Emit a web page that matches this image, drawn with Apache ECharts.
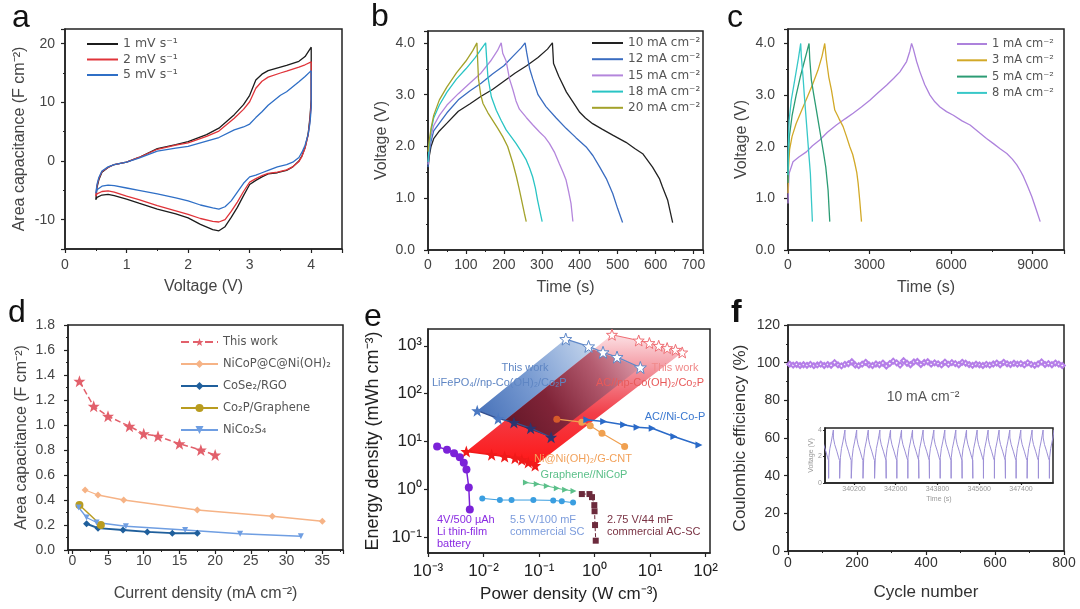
<!DOCTYPE html>
<html><head><meta charset="utf-8">
<script src="https://cdn.jsdelivr.net/npm/echarts@6/dist/echarts.min.js"></script>
<style>html,body{margin:0;padding:0;background:#fff}#c{width:1080px;height:609px}</style>
</head><body><div id="c"></div>
<script>
// ---------- Panel a: CV curves [V, F cm-2] ----------
const cvBlack = [[0.5,-6.6],[0.52,-4.5],[0.55,-3.2],[0.6,-1.9],[0.7,-1.1],[0.8,-0.6],[1.0,-0.2],[1.2,0.6],[1.5,2.1],[1.8,2.8],[2.0,3.3],[2.3,4.5],[2.5,5.6],[2.75,7.9],[2.9,9.6],[3.0,11.2],[3.1,13.8],[3.2,14.8],[3.3,15.4],[3.5,16.0],[3.6,16.3],[3.8,17.0],[3.9,17.8],[4.0,19.4],
  [4.0,10.5],[3.98,7.5],[3.95,4.6],[3.9,2.3],[3.85,0.9],[3.8,0],[3.7,-1.0],[3.6,-1.6],[3.45,-2.0],[3.3,-2.2],[3.2,-2.7],[3.1,-3.3],[3.0,-4.0],[2.9,-5.9],[2.8,-7.9],[2.7,-9.6],[2.6,-11.2],[2.5,-11.9],[2.4,-11.7],[2.2,-10.8],[2.0,-9.7],[1.8,-9.0],[1.5,-8.2],[1.2,-7.2],[1.0,-6.5],[0.8,-5.9],[0.7,-5.7],[0.6,-5.8],[0.52,-6.2],[0.5,-6.6]];
const cvRed = [[0.5,-6.0],[0.52,-4.2],[0.55,-3.0],[0.6,-1.8],[0.7,-1.1],[0.8,-0.6],[1.0,-0.2],[1.2,0.6],[1.5,2.0],[1.8,2.7],[2.0,3.1],[2.3,4.2],[2.5,5.1],[2.75,7.3],[2.9,8.8],[3.0,10.1],[3.1,12.4],[3.2,13.6],[3.3,14.3],[3.5,15.0],[3.6,15.3],[3.8,16.0],[3.9,16.4],[4.0,16.9],
  [4.0,10],[3.98,7],[3.95,4.4],[3.9,2.2],[3.85,0.8],[3.8,-0.1],[3.7,-1.0],[3.6,-1.5],[3.45,-1.9],[3.3,-2.1],[3.2,-2.5],[3.1,-3.0],[3.0,-3.6],[2.9,-5.2],[2.8,-7.0],[2.7,-8.6],[2.6,-10.0],[2.5,-10.4],[2.4,-10.3],[2.2,-9.8],[2.0,-9.1],[1.8,-8.5],[1.5,-7.6],[1.2,-6.6],[1.0,-6.0],[0.8,-5.3],[0.7,-5.1],[0.6,-5.2],[0.52,-5.6],[0.5,-6.0]];
const cvBlue = [[0.5,-5.5],[0.52,-4.0],[0.55,-2.8],[0.6,-1.7],[0.7,-1.0],[0.8,-0.6],[1.0,-0.2],[1.2,0.5],[1.5,1.7],[1.8,2.2],[2.0,2.5],[2.3,3.4],[2.5,4.0],[2.75,5.3],[2.9,5.8],[3.0,6.3],[3.1,7.4],[3.2,8.4],[3.3,9.5],[3.5,11.2],[3.6,11.8],[3.8,13.5],[3.9,14.4],[4.0,15.4],
  [4.0,9],[3.98,6.5],[3.95,4.5],[3.9,2.7],[3.85,1.5],[3.8,0.6],[3.7,-0.2],[3.6,-0.6],[3.45,-1.0],[3.3,-1.6],[3.2,-2.0],[3.1,-2.4],[3.0,-2.7],[2.9,-3.8],[2.8,-5.3],[2.7,-6.8],[2.6,-7.8],[2.5,-8.2],[2.4,-8.0],[2.2,-7.5],[2.0,-6.8],[1.8,-6.3],[1.5,-5.6],[1.2,-5.0],[1.0,-4.6],[0.8,-4.2],[0.7,-4.1],[0.6,-4.3],[0.52,-4.9],[0.5,-5.5]];
const cvNames = ['1 mV s\u207B\u00B9','2 mV s\u207B\u00B9','5 mV s\u207B\u00B9'];

// ---------- Panel b: GCD [s, V] ----------
const gcd10 = [[0,1.55],[3,1.8],[8,2.0],[15,2.15],[30,2.3],[50,2.45],[80,2.68],[110,2.82],[140,2.97],[170,3.1],[200,3.26],[230,3.42],[260,3.56],[290,3.72],[315,3.88],[328,4.0],[331,3.6],[345,3.35],[365,3.05],[382,2.86],[400,2.66],[415,2.55],[434,2.44],[460,2.33],[487,2.22],[522,2.08],[545,1.96],[566,1.86],[592,1.6],[610,1.38],[618,1.22],[632,0.96],[645,0.53]];
const gcd12 = [[0,1.6],[3,1.85],[8,2.1],[15,2.3],[30,2.45],[50,2.65],[80,2.9],[110,3.07],[140,3.22],[170,3.4],[200,3.56],[225,3.75],[245,3.9],[256,4.0],[260,3.82],[268,3.5],[276,3.31],[290,3.0],[311,2.77],[338,2.55],[364,2.35],[390,2.17],[417,1.99],[435,1.82],[452,1.61],[470,1.38],[487,1.09],[500,0.8],[513,0.53]];
const gcd15 = [[0,1.65],[3,1.95],[8,2.2],[15,2.4],[30,2.6],[50,2.8],[80,3.02],[110,3.22],[140,3.42],[165,3.65],[183,3.85],[193,4.0],[197,3.8],[206,3.65],[215,3.3],[224,3.09],[232,2.88],[241,2.72],[259,2.56],[276,2.42],[294,2.28],[308,2.18],[320,2.06],[334,1.88],[346,1.67],[356,1.5],[364,1.35],[371,1.12],[377,0.9],[382,0.55]];
const gcd18 = [[0,1.7],[3,2.0],[8,2.3],[15,2.55],[30,2.8],[50,3.05],[75,3.3],[100,3.5],[125,3.72],[142,3.9],[152,4.0],[155,3.65],[158,3.34],[167,2.96],[180,2.7],[193,2.5],[206,2.32],[220,2.18],[232,2.06],[246,1.9],[259,1.74],[268,1.58],[276,1.41],[283,1.2],[289,0.96],[295,0.75],[301,0.55]];
const gcd20 = [[0,1.9],[3,2.1],[8,2.35],[15,2.6],[30,2.9],[50,3.15],[75,3.42],[100,3.65],[118,3.85],[129,4.0],[131,3.65],[133,3.31],[139,3.0],[145,2.83],[158,2.65],[171,2.5],[184,2.35],[197,2.19],[210,2.0],[224,1.67],[233,1.42],[241,1.16],[248,0.92],[254,0.71],[259,0.55]];
const gcdBNames = ['10 mA cm\u207B\u00B2','12 mA cm\u207B\u00B2','15 mA cm\u207B\u00B2','18 mA cm\u207B\u00B2','20 mA cm\u207B\u00B2'];

// ---------- Panel c: GCD [s, V] ----------
const gcdC1 = [[0,0.9],[15,1.2],[40,1.48],[184,1.71],[400,1.8],[676,1.9],[900,2.02],[1167,2.13],[1450,2.28],[1781,2.42],[2100,2.54],[2395,2.65],[2700,2.77],[3010,2.9],[3300,3.04],[3624,3.19],[3880,3.32],[4115,3.45],[4361,3.65],[4480,3.85],[4545,4.0],[4607,3.9],[4730,3.65],[4852,3.45],[5030,3.2],[5221,3.0],[5400,2.87],[5590,2.77],[5830,2.68],[6081,2.61],[6400,2.5],[6695,2.42],[7064,2.26],[7300,2.16],[7555,2.06],[7800,1.96],[8047,1.87],[8250,1.76],[8415,1.65],[8550,1.53],[8661,1.42],[8800,1.25],[8968,1.03],[9130,0.78],[9275,0.55]];
const gcdC3 = [[0,1.1],[20,1.6],[60,1.95],[150,2.2],[300,2.45],[500,2.7],[700,2.95],[900,3.2],[1100,3.48],[1250,3.75],[1351,4.0],[1413,3.68],[1500,3.35],[1597,3.1],[1720,2.71],[1870,2.55],[2027,2.39],[2150,2.2],[2273,2.0],[2380,1.85],[2457,1.68],[2530,1.5],[2580,1.29],[2640,0.95],[2703,0.55]];
const gcdC5 = [[0,1.3],[15,1.8],[50,2.2],[150,2.6],[300,3.0],[450,3.35],[600,3.65],[700,3.85],[774,4.0],[800,3.7],[860,3.29],[950,3.0],[1044,2.71],[1136,2.42],[1228,2.13],[1310,1.87],[1388,1.61],[1474,1.16],[1505,0.85],[1536,0.55]];
const gcdC8 = [[0,1.45],[10,2.0],[40,2.5],[120,2.9],[250,3.3],[380,3.7],[467,4.0],[490,3.75],[553,3.35],[600,3.0],[651,2.65],[695,2.35],[737,2.06],[780,1.77],[823,1.48],[860,1.0],[897,0.55]];
const gcdCNames = ['1 mA cm\u207B\u00B2','3 mA cm\u207B\u00B2','5 mA cm\u207B\u00B2','8 mA cm\u207B\u00B2'];

// ---------- Panel d: rate capability [mA cm-2, F cm-2] ----------
const dThis = [[1,1.35],[3,1.15],[5,1.07],[8,0.99],[10,0.93],[12,0.91],[15,0.85],[18,0.80],[20,0.76]];
const dNiCoP = [[1.8,0.48],[3.6,0.44],[7.2,0.40],[17.5,0.32],[28,0.27],[35,0.23]];
const dCoSe2 = [[2,0.21],[3.6,0.175],[7.1,0.16],[10.5,0.145],[14,0.135],[17.5,0.135]];
const dCo2P = [[1,0.36],[4,0.2]];
const dNiCo2S4 = [[0.9,0.34],[2,0.26],[3.4,0.22],[7.5,0.19],[15.8,0.16],[23.5,0.13],[32,0.11]];
const dNames = ['This work','NiCoP@C@Ni(OH)\u2082','CoSe\u2082/RGO','Co\u2082P/Graphene','NiCo\u2082S\u2084'];

// ---------- Panel e: Ragone [W cm-3, mWh cm-3] ----------
const eBlueLow = [[0.0077,44],[0.0184,30],[0.0353,25],[0.0706,19],[0.165,12.3]];
const eBlueHigh = [[0.303,1380],[0.78,970],[1.42,730],[2.54,580],[6.68,352]];
const eRedLow = [[0.0049,6.2],[0.014,5.3],[0.024,4.85],[0.037,4.5],[0.049,4.15],[0.064,3.65],[0.085,3.15]];
const eRedHigh = [[2.06,1700],[6.24,1290],[9.72,1140],[14.3,1000],[20.3,895],[28.7,825],[37.9,726]];
const eLiBattery = [[0.00146,7.9],[0.0022,6.7],[0.00295,5.7],[0.00373,4.7],[0.00441,3.6],[0.00493,2.6],[0.00543,1.1],[0.00566,0.38]];
const eCommSC = [[0.0095,0.65],[0.0197,0.60],[0.032,0.60],[0.079,0.60],[0.18,0.59],[0.257,0.565],[0.41,0.53]];
const eGrNiCoP = [[0.058,1.39],[0.091,1.30],[0.138,1.18],[0.209,1.06],[0.295,0.98],[0.417,0.93]];
const eACSC = [[0.59,0.8],[0.81,0.8],[0.9,0.69],[0.99,0.47],[1.0,0.35],[1.02,0.18],[1.05,0.085]];
const eNiGCNT = [[0.209,29.3],[0.59,25.4],[0.835,21.3],[1.36,14.9],[3.48,7.9]];
const eACNiCoP = [[0.726,28.4],[1.46,26.2],[3.34,22.3],[5.82,19.9],[10.9,19],[26.8,12.7],[75.9,8.5]];

// ---------- Panel f: cycling ----------
const fCycle = [5,15,25,35,45,55,65,75,85,95,105,115,125,135,145,155,165,175,185,195,205,215,225,235,245,255,265,275,285,295,305,315,325,335,345,355,365,375,385,395,405,415,425,435,445,455,465,475,485,495,505,515,525,535,545,555,565,575,585,595,605,615,625,635,645,655,665,675,685,695,705,715,725,735,745,755,765,775,785,795];
const fEff = [99.2,98.7,99.0,98.5,98.9,98.6,99.1,98.4,98.8,99.2,98.5,99.0,98.6,100.0,98.8,98.3,99.1,99.4,100.5,98.7,98.4,99.2,100.2,98.8,98.5,99.3,98.9,99.8,98.2,99.5,100.8,99.9,98.7,101.0,99.7,98.9,100.4,100.6,99.0,100.1,100.5,99.2,99.9,99.4,98.8,100.3,99.1,100.0,99.5,98.9,100.2,99.7,99.0,98.6,99.2,98.8,98.5,99.1,98.7,99.3,99.8,98.9,100.2,99.4,99.0,99.7,99.2,99.5,98.8,99.9,99.1,98.6,99.3,100.4,99.0,99.5,98.9,99.8,99.2,98.5];
const insetPeaks = [338835,339310,339810,340316,340816,341316,341776,342250,342724,343181,343643,344116,344590,345052,345510,345983,346457,346918,347392,347879,348353,348830];
const insetCycleOffset = [-200,-197,-150,-90,-40,0,4,60,150,230,268,272];
const insetCycleVolt = [0.35,1.9,2.6,3.1,3.6,4.0,3.4,2.9,2.4,1.9,1.7,0.35];
const insetTicks = [340200,342000,343800,345600,347400];

// ---------- helpers ----------
const FONT = '"Liberation Sans", Arial, Helvetica, sans-serif';
const LFONT = '"DejaVu Sans", "Liberation Sans", sans-serif';
const STAR = 'path://M12,0.5 L14.9,8.6 L23.5,8.8 L16.7,14.1 L19.1,22.4 L12,17.6 L4.9,22.4 L7.3,14.1 L0.5,8.8 L9.1,8.6 Z';
const TRI_R = 'path://M0,0 L10,5 L0,10 Z';
const TRI_D = 'path://M0,0 L10,0 L5,8 Z';
const SUP = {'-':'\u207B','0':'\u2070','1':'\u00B9','2':'\u00B2','3':'\u00B3','4':'\u2074'};
function pow10(v){ const e = Math.round(Math.log10(v)); return '10' + String(e).split('').map(c=>SUP[c]).join(''); }

function ax(dim, o) {
  const a = {
    type: o.type || 'value', gridIndex: o.g, min: o.min, max: o.max,
    position: dim === 'x' ? 'bottom' : 'left',
    name: o.name || '', nameLocation: 'middle', nameGap: o.gap || 30,
    nameTextStyle: {fontFamily: FONT, fontSize: o.nfs || 16, color: o.nc || '#444'},
    axisLine: {show: true, onZero: false, lineStyle: {color: '#222', width: 1.5}},
    axisTick: {show: true, length: o.tl || 4, lineStyle: {color: '#222', width: 1.2}},
    minorTick: {show: !!o.minor, splitNumber: 2, length: (o.tl || 4) / 2, lineStyle: {color: '#222', width: 1}},
    splitLine: {show: false},
    axisLabel: {fontFamily: FONT, fontSize: o.fs || 14, color: o.lc || '#444', margin: o.m == null ? 8 : o.m}
  };
  if (o.split != null) a.splitNumber = o.split;
  if (o.type === 'log') a.logBase = 10;
  if (o.smin === false) a.axisLabel.showMinLabel = false;
  if (o.smax === false) a.axisLabel.showMaxLabel = false;
  if (o.fmt) a.axisLabel.formatter = o.fmt;
  if (o.cv) { a.axisLabel.customValues = o.cv; a.axisTick.customValues = o.cv; }
  return a;
}
function grid(l, t, w, h) {
  return {left: l, top: t, width: w, height: h, show: true, borderColor: '#222', borderWidth: 1.5, backgroundColor: 'rgba(0,0,0,0)'};
}
function ln(name, data, g, color, extra) {
  const s = {type: 'line', name: name, data: data, xAxisIndex: g, yAxisIndex: g, symbol: 'none',
    lineStyle: {color: color, width: 1.3}, itemStyle: {color: color}, z: 3, animation: false};
  return Object.assign(s, extra || {});
}
const f1 = v => v.toFixed(1);
const fs = v => String(v);

const grids = [
  grid(65, 29, 277, 220),   // a
  grid(428, 31, 275, 219),  // b
  grid(788, 29, 276, 221),  // c
  grid(68, 325, 275, 225),  // d
  grid(428, 329, 282, 224), // e
  grid(788, 325, 276, 226), // f
  grid(825, 428, 228, 55)   // inset
];
const xAxes = [
  ax('x', {g:0, min:0, max:4.5, split:4, minor:true, smax:false, m:9, name:'Voltage (V)', gap:30}),
  ax('x', {g:1, min:0, max:725, split:7, minor:true, smax:false, m:8, name:'Time (s)', gap:30}),
  ax('x', {g:2, min:0, max:10150, split:3, minor:true, smax:false, m:8, fmt:fs, name:'Time (s)', gap:30}),
  ax('x', {g:3, min:-0.6, max:37.9, split:8, minor:true, smin:false, smax:false, m:4, name:'Current density (mA cm\u207B\u00B2)', gap:36}),
  ax('x', {g:4, type:'log', min:0.001, max:120, smax:false, m:10, fs:17, lc:'#222', fmt:pow10, name:'Power density (W cm\u207B\u00B3)', nfs:17, nc:'#222', gap:33}),
  ax('x', {g:5, min:0, max:800, split:4, minor:true, m:5, lc:'#333', name:'Cycle number', nfs:17, nc:'#333', gap:33}),
  ax('x', {g:6, min:338950, max:348780, cv:insetTicks, tl:2, fs:7, lc:'#999', m:3, fmt:fs, name:'Time (s)', nfs:7, nc:'#999', gap:13})
];
const yAxes = [
  ax('y', {g:0, min:-15, max:22.5, split:4, minor:true, smin:false, smax:false, m:10, name:'Area capacitance (F cm\u207B\u00B2)', gap:37}),
  ax('y', {g:1, min:0, max:4.23, split:4, minor:true, smax:false, m:13, fmt:f1, name:'Voltage (V)', gap:38}),
  ax('y', {g:2, min:0, max:4.28, split:4, minor:true, smax:false, m:13, fmt:f1, name:'Voltage (V)', gap:38}),
  ax('y', {g:3, min:0, max:1.8, split:9, minor:true, m:13, fmt:f1, name:'Area capacitance (F cm\u207B\u00B2)', gap:38}),
  ax('y', {g:4, type:'log', min:0.047, max:2240, smin:false, smax:false, m:6, fs:17, lc:'#222', fmt:pow10, name:'Energy density (mWh cm\u207B\u00B3)', nfs:18, nc:'#222', gap:46}),
  ax('y', {g:5, min:0, max:120, split:6, minor:true, m:8, lc:'#333', name:'Coulombic efficiency (%)', nfs:17, nc:'#333', gap:39}),
  ax('y', {g:6, min:0, max:4.15, split:2, tl:2, smax:false, fs:7, lc:'#999', m:3, name:'Voltage (V)', nfs:7, nc:'#999', gap:9})
];

// gradients for Ragone bands
const blueGrad = new echarts.graphic.LinearGradient(0, 1, 1, 0, [
  {offset: 0, color: 'rgb(62,106,180)'}, {offset: 0.4, color: 'rgb(122,156,210)'}, {offset: 0.75, color: 'rgb(192,210,235)'}, {offset: 1, color: 'rgb(236,241,250)'}]);
const redGrad = new echarts.graphic.LinearGradient(0, 1, 0, 0, [
  {offset: 0, color: 'rgb(255,22,22)'}, {offset: 0.4, color: 'rgb(242,62,72)'}, {offset: 0.7, color: 'rgb(242,140,150)'}, {offset: 1, color: 'rgb(252,224,228)'}]);
const overlapGrad = new echarts.graphic.LinearGradient(0, 1, 1, 0, [
  {offset: 0, color: 'rgb(96,22,38)'}, {offset: 0.35, color: 'rgb(128,36,56)'}, {offset: 0.7, color: 'rgb(180,92,112)'}, {offset: 1, color: 'rgb(226,164,178)'}]);

function clipPoly(subject, clip) {
  let area = 0;
  for (let i = 0; i < clip.length; i++) { const a = clip[i], b = clip[(i + 1) % clip.length]; area += a[0] * b[1] - b[0] * a[1]; }
  const sg = area > 0 ? 1 : -1;
  const inside = (p, a, b) => sg * ((b[0] - a[0]) * (p[1] - a[1]) - (b[1] - a[1]) * (p[0] - a[0])) >= 0;
  const cross = (p, q, a, b) => {
    const d1x = q[0] - p[0], d1y = q[1] - p[1], d2x = b[0] - a[0], d2y = b[1] - a[1];
    const den = d1x * d2y - d1y * d2x;
    const t = ((a[0] - p[0]) * d2y - (a[1] - p[1]) * d2x) / den;
    return [p[0] + t * d1x, p[1] + t * d1y];
  };
  let out = subject;
  for (let i = 0; i < clip.length && out.length; i++) {
    const a = clip[i], b = clip[(i + 1) % clip.length], inp = out; out = [];
    for (let j = 0; j < inp.length; j++) {
      const p = inp[j], q = inp[(j + 1) % inp.length], pin = inside(p, a, b), qin = inside(q, a, b);
      if (pin) { out.push(p); if (!qin) out.push(cross(p, q, a, b)); }
      else if (qin) out.push(cross(p, q, a, b));
    }
  }
  return out;
}
function bandPts(low, high, api) { return low.concat(high.slice().reverse()).map(p => api.coord(p)); }
function band(low, high, grad, z) {
  return {type: 'custom', xAxisIndex: 4, yAxisIndex: 4, z: z, silent: true, animation: false, data: [0],
    renderItem: function (params, api) {
      return {type: 'polygon', shape: {points: bandPts(low, high, api)}, style: {fill: grad}};
    }};
}
const overlapSeries = {type: 'custom', xAxisIndex: 4, yAxisIndex: 4, z: 2, silent: true, animation: false, data: [0],
  renderItem: function (params, api) {
    const red = bandPts(eRedLow, eRedHigh, api);
    const blue = [eBlueLow[0], eBlueLow[eBlueLow.length - 1], eBlueHigh[eBlueHigh.length - 1], eBlueHigh[0]].map(p => api.coord(p));
    const pts = clipPoly(red, blue);
    return {type: 'polygon', shape: {points: pts}, style: {fill: overlapGrad}};
  }};

const series = [
  // a
  ln(cvNames[0], cvBlack, 0, '#1c1c1c'), ln(cvNames[1], cvRed, 0, '#e0343a'), ln(cvNames[2], cvBlue, 0, '#2f6fc6'),
  // b
  ln(gcdBNames[0], gcd10, 1, '#222222'), ln(gcdBNames[1], gcd12, 1, '#3a6cc0'), ln(gcdBNames[2], gcd15, 1, '#b486dc'),
  ln(gcdBNames[3], gcd18, 1, '#29c4c4'), ln(gcdBNames[4], gcd20, 1, '#a3a22a'),
  // c
  ln(gcdCNames[0], gcdC1, 2, '#ad82dc'), ln(gcdCNames[1], gcdC3, 2, '#d2a928'), ln(gcdCNames[2], gcdC5, 2, '#2c9c74'), ln(gcdCNames[3], gcdC8, 2, '#38c8c8'),
  // d
  ln(dNames[0], dThis, 3, '#e2606b', {symbol: STAR, symbolSize: 12, lineStyle: {color: '#e2606b', width: 1.5, type: 'dashed'}}),
  ln(dNames[1], dNiCoP, 3, '#f6b386', {symbol: 'diamond', symbolSize: 7, lineStyle: {color: '#f6b386', width: 1.3}}),
  ln(dNames[2], dCoSe2, 3, '#1f5f9c', {symbol: 'diamond', symbolSize: 7, lineStyle: {color: '#1f5f9c', width: 2}}),
  ln(dNames[3], dCo2P, 3, '#b99c1f', {symbol: 'circle', symbolSize: 8, lineStyle: {color: '#b99c1f', width: 1.5}}),
  ln(dNames[4], dNiCo2S4, 3, '#6f9ee2', {symbol: TRI_D, symbolSize: 6, lineStyle: {color: '#6f9ee2', width: 1.3}}),
  // e bands
  band(eBlueLow, eBlueHigh, blueGrad, 1),
  band(eRedLow, eRedHigh, redGrad, 1),
  overlapSeries,
  // e series
  ln('eBlueLow', eBlueLow, 4, '#34508f', {symbol: STAR, symbolSize: 12, lineStyle: {color: '#34508f', width: 1.3},
     itemStyle: {color: p => p.dataIndex < 2 ? '#4a78c2' : '#2b356f'}}),
  ln('eBlueHigh', eBlueHigh, 4, '#5f88c8', {symbol: STAR, symbolSize: 12, lineStyle: {color: '#5f88c8', width: 1.2},
     itemStyle: {color: '#ffffff', borderColor: '#5f88c8', borderWidth: 1}}),
  ln('eRedLow', eRedLow, 4, '#f01a1a', {symbol: STAR, symbolSize: 12, lineStyle: {color: '#f01a1a', width: 1.5}}),
  ln('eRedHigh', eRedHigh, 4, '#ef6e74', {symbol: STAR, symbolSize: 11, lineStyle: {color: '#ef6e74', width: 1.2},
     itemStyle: {color: '#ffffff', borderColor: '#ef6e74', borderWidth: 1}}),
  ln('eLi', eLiBattery, 4, '#7b22d8', {symbol: 'circle', symbolSize: 8, lineStyle: {color: '#7b22d8', width: 1.5}}),
  ln('eSC', eCommSC, 4, '#3a9ee0', {symbol: 'circle', symbolSize: 6, lineStyle: {color: '#3a9ee0', width: 1}}),
  ln('eGr', eGrNiCoP, 4, '#5cc08a', {symbol: TRI_R, symbolSize: 6, lineStyle: {color: '#5cc08a', width: 1}}),
  ln('eACSC', eACSC, 4, '#6c2a3c', {symbol: 'rect', symbolSize: 6, lineStyle: {color: '#6c2a3c', width: 1, type: 'dashed'}}),
  ln('eNiG', eNiGCNT, 4, '#f0a050', {symbol: 'circle', symbolSize: 7, lineStyle: {color: '#f0a050', width: 1.2},
     itemStyle: {color: p => p.dataIndex === 0 ? '#d65a2a' : '#f0a050'}}),
  ln('eACNi', eACNiCoP, 4, '#2a6ac8', {symbol: TRI_R, symbolSize: 7, lineStyle: {color: '#2a6ac8', width: 1.5}}),
  // f
  ln('fEff', fCycle.map((c, i) => [c, fEff[i]]), 5, '#b57ee8', {symbol: 'emptyDiamond', symbolSize: 5, lineStyle: {color: '#b57ee8', width: 1}}),
  ln('inset', (function(){ const d=[]; insetPeaks.forEach(tp => insetCycleOffset.forEach((o,i) => d.push([tp+o, insetCycleVolt[i]]))); return d; })(),
     6, '#9c8fd6', {lineStyle: {color: '#9c8fd6', width: 1}})
];

function leg(names, left, top, fsz, iw, gap, extra) {
  return Object.assign({data: names, left: left, top: top, orient: 'vertical', itemWidth: iw, itemHeight: 2, icon: 'rect',
    itemGap: gap, selectedMode: false, padding: 0,
    textStyle: {fontFamily: LFONT, fontSize: fsz, color: '#555', lineHeight: 14}}, extra || {});
}
const legends = [
  leg(cvNames, 87, 37, 12.5, 31, 1.5),
  leg(gcdBNames, 592, 36, 12, 31, 2.2),
  leg(gcdCNames, 957, 37, 11.5, 30, 2.3),
  leg(dNames, 180, 335, 11.5, 37, 8, {itemHeight: 10})
];
delete legends[3].icon;

function T(x, y, text, font, color, align, vAlign, lh) {
  return {type: 'text', x: x, y: y, silent: true, z: 100,
    style: {text: text, font: font, fill: color, align: align || 'left', verticalAlign: vAlign || 'middle', lineHeight: lh || undefined}};
}
const LET = '32px "Liberation Sans", Arial, sans-serif';
const ANN = '11px "Liberation Sans", Arial, sans-serif';
const graphics = [
  T(12, 18, 'a', LET, '#111'), T(371, 17, 'b', LET, '#111'), T(727, 18, 'c', LET, '#111'),
  T(8, 313, 'd', LET, '#111'), T(364, 317, 'e', LET, '#111'), T(731, 313, 'f', 'bold 32px "Liberation Sans", Arial, sans-serif', '#111'),
  T(525, 368, 'This work', ANN, '#5f86c4', 'center'),
  T(432, 383, 'LiFePO\u2084//np-Co(OH)\u2082/Co\u2082P', ANN, '#5f86c4'),
  T(675, 368, 'This work', ANN, '#f08a8a', 'center'),
  T(650, 383, 'AC//np-Co(OH)\u2082/Co\u2082P', ANN, '#e85a5a', 'center'),
  T(675, 417, 'AC//Ni-Co-P', ANN, '#3a78d0', 'center'),
  T(583, 459, 'Ni@Ni(OH)\u2082/G-CNT', ANN, '#f2a15a', 'center'),
  T(584, 475, 'Graphene//NiCoP', ANN, '#5cc08a', 'center'),
  T(437, 514, '4V/500 \u00B5Ah\nLi thin-film\nbattery', ANN, '#8a2be2', 'left', 'top', 12),
  T(510, 514, '5.5 V/100 mF\ncommercial SC', ANN, '#7c9cdc', 'left', 'top', 12),
  T(607, 514, '2.75 V/44 mF\ncommercial AC-SC', ANN, '#7a3344', 'left', 'top', 12),
  T(923, 397, '10 mA cm\u207B\u00B2', '14px "Liberation Sans", Arial, sans-serif', '#555', 'center')
];

const chart = echarts.init(document.getElementById('c'), null, {renderer: 'canvas'});
chart.setOption({
  backgroundColor: '#ffffff', animation: false,
  textStyle: {fontFamily: FONT},
  grid: grids, xAxis: xAxes, yAxis: yAxes, series: series, legend: legends, graphic: graphics
});
</script></body></html>
